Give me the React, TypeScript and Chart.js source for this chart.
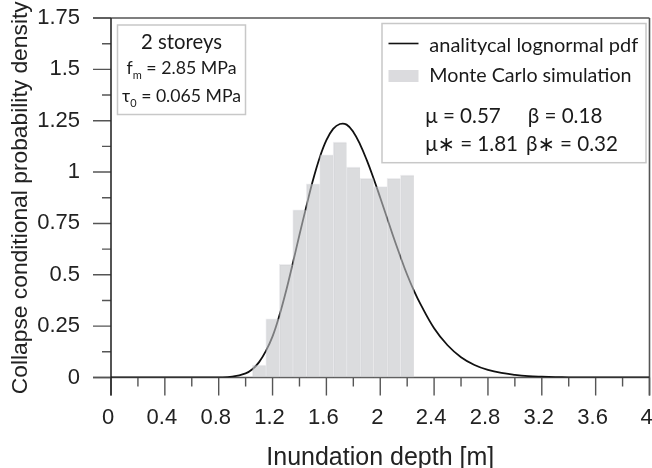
import React, { useEffect, useRef } from "react";
import { Chart, registerables } from "chart.js";

Chart.register(...registerables);

// ---------- data ----------
const binCenters = [1.1, 1.2, 1.3, 1.4, 1.5, 1.6, 1.7, 1.8, 1.9, 2.0, 2.1, 2.2];
const mcDensity = [0.061, 0.286, 0.551, 0.816, 0.943, 1.084, 1.146, 1.024, 0.97, 0.929, 0.97, 0.985];

const pdfX = [0, 0.1, 0.2, 0.3, 0.4, 0.5, 0.6, 0.7, 0.8, 0.9, 1.0, 1.05, 1.1, 1.15, 1.2, 1.25, 1.3, 1.35, 1.4, 1.45, 1.5, 1.55, 1.6, 1.65, 1.7, 1.75, 1.8, 1.85, 1.9, 1.95, 2.0, 2.05, 2.1, 2.15, 2.2, 2.25, 2.3, 2.4, 2.5, 2.6, 2.7, 2.8, 2.9, 3.0, 3.1, 3.2, 3.3, 3.4, 3.5, 3.6, 3.7, 3.8, 3.9, 4.0];
const pdfY = [0, 0, 0, 0, 0, 0, 0, 0, 0.0005, 0.004, 0.02, 0.04, 0.075, 0.128, 0.2, 0.3, 0.42, 0.555, 0.695, 0.83, 0.96, 1.07, 1.155, 1.21, 1.234, 1.231, 1.195, 1.135, 1.058, 0.97, 0.875, 0.778, 0.68, 0.588, 0.5, 0.423, 0.356, 0.24, 0.157, 0.099, 0.061, 0.037, 0.022, 0.013, 0.007, 0.004, 0.002, 0.001, 0, 0, 0, 0, 0, 0];

const xTicks = [0, 0.4, 0.8, 1.2, 1.6, 2.0, 2.4, 2.8, 3.2, 3.6, 4.0];
const xTickLabels = ["0", "0.4", "0.8", "1.2", "1.6", "2", "2.4", "2.8", "3.2", "3.6", "4"];
const xMinorTicks = [0.2, 0.6, 1.0, 1.4, 1.8, 2.2, 2.6, 3.0, 3.4, 3.8];
const yTicks = [0, 0.25, 0.5, 0.75, 1, 1.25, 1.5, 1.75];
const yTickLabels = ["0", "0.25", "0.5", "0.75", "1", "1.25", "1.5", "1.75"];
const yMinorTicks = [0.125, 0.375, 0.625, 0.875, 1.125, 1.375, 1.625];

const seriesLabels = ["analitycal lognormal pdf", "Monte Carlo simulation"];
const paramRow1 = ["\u03bc = 0.57", "\u03b2 = 0.18"];
const paramRow2 = ["\u03bc\u2217 = 1.81", "\u03b2\u2217 = 0.32"];
const infoTitle = "2 storeys";
const infoFm = ["f", "m", " = 2.85 MPa"];
const infoTau = ["\u03c4", "0", " = 0.065 MPa"];

const xTitle = "Inundation depth [m]";
const yTitle = "Collapse conditional probability density";

// ---------- style ----------
const ARIAL = "'Liberation Sans', Arial, sans-serif";
const CAL = "Lato, 'Noto Sans', 'DejaVu Sans', sans-serif";
const BAR_FILL = "rgba(195,196,200,0.6)";
const BAR_SOLID = "rgb(219,219,222)";

function fitSize(ctx: CanvasRenderingContext2D, text: string, width: number) {
  ctx.font = `100px ${CAL}`;
  return (100 * width) / ctx.measureText(text).width;
}

const axesPlugin = {
  id: "axesPlugin",
  beforeDatasetsDraw(chart: any) {
    const { ctx, chartArea: a, scales } = chart;
    const xs = scales.x;
    const ys = scales.y;
    const y0 = ys.getPixelForValue(0);
    const x0 = xs.getPixelForValue(0);
    const MAJ = 18;
    const MIN = 9;
    ctx.save();
    ctx.lineCap = "butt";
    ctx.strokeStyle = "#555";
    ctx.lineWidth = 1.4;
    ctx.beginPath();
    xTicks.forEach((v) => {
      const px = xs.getPixelForValue(v);
      ctx.moveTo(px, y0);
      ctx.lineTo(px, y0 + MAJ);
    });
    xMinorTicks.forEach((v) => {
      const px = xs.getPixelForValue(v);
      ctx.moveTo(px, y0);
      ctx.lineTo(px, y0 + MIN);
    });
    yTicks.forEach((v) => {
      const py = ys.getPixelForValue(v);
      ctx.moveTo(x0 - MAJ, py);
      ctx.lineTo(x0, py);
    });
    yMinorTicks.forEach((v) => {
      const py = ys.getPixelForValue(v);
      ctx.moveTo(x0 - MIN, py);
      ctx.lineTo(x0, py);
    });
    ctx.stroke();
    ctx.strokeStyle = "#555";
    ctx.lineWidth = 1.6;
    ctx.beginPath();
    ctx.moveTo(x0 - MAJ, a.top);
    ctx.lineTo(a.right, a.top);
    ctx.moveTo(a.right, a.top);
    ctx.lineTo(a.right, y0 + MAJ);
    ctx.moveTo(x0 - MAJ, y0);
    ctx.lineTo(a.right, y0);
    ctx.stroke();
    ctx.strokeStyle = "#2a2a2a";
    ctx.beginPath();
    ctx.moveTo(x0, a.top);
    ctx.lineTo(x0, y0 + MAJ);
    ctx.stroke();
    ctx.restore();
  },
  afterDraw(chart: any) {
    const { ctx } = chart;
    ctx.save();
    // ---- info box ----
    ctx.fillStyle = "#fff";
    ctx.strokeStyle = "#c8c8c8";
    ctx.lineWidth = 1.5;
    ctx.fillRect(117.5, 25, 128, 89.5);
    ctx.strokeRect(117.5, 25, 128, 89.5);

    ctx.fillStyle = "#1a1a1a";
    ctx.textBaseline = "alphabetic";
    const cx = 181.5;
    const infoSize = fitSize(ctx, infoTitle, 81);
    ctx.font = `${infoSize}px ${CAL}`;
    ctx.textAlign = "center";
    ctx.fillText(infoTitle, cx, 49.3);
    const drawSub = (parts: string[], base: number, target: number) => {
      const measure = (s: number) => {
        ctx.font = `${s}px ${CAL}`;
        const w0 = ctx.measureText(parts[0]).width;
        const w2 = ctx.measureText(parts[2]).width;
        ctx.font = `${s * 0.62}px ${CAL}`;
        const w1 = ctx.measureText(parts[1]).width;
        return [w0, w1, w2];
      };
      const m100 = measure(100);
      const s = (100 * target) / (m100[0] + m100[1] + m100[2]);
      const [w0, w1, w2] = measure(s);
      ctx.textAlign = "left";
      let x = cx - (w0 + w1 + w2) / 2;
      ctx.font = `${s}px ${CAL}`;
      ctx.fillText(parts[0], x, base);
      x += w0;
      ctx.font = `${s * 0.62}px ${CAL}`;
      ctx.fillText(parts[1], x, base + 5);
      x += w1;
      ctx.font = `${s}px ${CAL}`;
      ctx.fillText(parts[2], x, base);
    };
    drawSub(infoFm, 74, 110);
    drawSub(infoTau, 101.7, 119);

    // ---- legend box ----
    ctx.fillStyle = "#fff";
    ctx.strokeStyle = "#c8c8c8";
    ctx.lineWidth = 1.5;
    ctx.fillRect(382, 23.5, 264, 139.2);
    ctx.strokeRect(382, 23.5, 264, 139.2);

    const lineDs = chart.data.datasets[0];
    const barDs = chart.data.datasets[1];
    ctx.strokeStyle = lineDs.borderColor;
    ctx.lineWidth = 1.6;
    ctx.beginPath();
    ctx.moveTo(388.5, 43.5);
    ctx.lineTo(418.5, 43.5);
    ctx.stroke();
    ctx.fillStyle = BAR_SOLID;
    ctx.fillRect(388.5, 70, 30, 12);

    ctx.fillStyle = "#1a1a1a";
    ctx.textAlign = "left";
    const s1 = fitSize(ctx, lineDs.label, 209);
    const s2 = fitSize(ctx, barDs.label, 199);
    ctx.font = `${s1}px ${CAL}`;
    ctx.fillText(lineDs.label, 429.3, 52.3);
    ctx.font = `${(s1 + s2) / 2}px ${CAL}`;
    ctx.fillText(barDs.label, 429.3, 81.7);
    ctx.font = `${s1 * 1.03}px ${CAL}`;
    ctx.fillText(paramRow1[0], 425.3, 123.3);
    ctx.fillText(paramRow1[1], 527.7, 123.3);
    ctx.fillText(paramRow2[0], 425.3, 151);
    ctx.fillText(paramRow2[1], 526, 151);
    ctx.restore();
  },
};

export default function App() {
  const ref = useRef<HTMLCanvasElement | null>(null);
  useEffect(() => {
    if (!ref.current) return;
    const chart = new Chart(ref.current, {
      type: "bar",
      data: {
        datasets: [
          {
            type: "line",
            label: seriesLabels[0],
            data: pdfX.map((x, i) => ({ x, y: pdfY[i] })),
            borderColor: "#111",
            borderWidth: 1.8,
            pointRadius: 0,
            fill: false,
            tension: 0.4,
            order: 2,
          } as any,
          {
            type: "bar",
            label: seriesLabels[1],
            data: binCenters.map((x, i) => ({ x, y: mcDensity[i] })),
            backgroundColor: BAR_FILL,
            borderColor: "rgba(200,200,204,0.3)",
            borderWidth: { left: 1, top: 1, right: 0, bottom: 0 },
            borderSkipped: false,
            barPercentage: 1,
            categoryPercentage: 1,
            order: 1,
          } as any,
        ],
      },
      options: {
        animation: false,
        responsive: false,
        devicePixelRatio: 1,
        layout: { padding: { top: 18, right: 2.5, left: 0, bottom: 0 } },
        plugins: { legend: { display: false }, tooltip: { enabled: false } },
        scales: {
          x: {
            type: "linear",
            min: 0,
            max: 4,
            offset: false,
            grid: { display: false, drawTicks: false, offset: false },
            border: { display: false },
            afterBuildTicks: (s: any) => {
              s.ticks = xTicks.map((v) => ({ value: v }));
            },
            afterFit: (s: any) => {
              s.height = 90.5;
              s.paddingLeft = 0;
              s.paddingRight = 0;
            },
            ticks: {
              autoSkip: false,
              maxRotation: 0,
              padding: 27,
              labelOffset: -3,
              color: "#222",
              font: { family: ARIAL, size: 22 },
              callback: (v: any) => xTickLabels[xTicks.indexOf(Number(v))] ?? "",
            },
            title: {
              display: true,
              text: xTitle,
              color: "#222",
              font: { family: ARIAL, size: 25, lineHeight: 1.2 },
              padding: { top: 0, bottom: -5 },
            },
          },
          y: {
            type: "linear",
            min: 0,
            max: 1.75,
            grid: { display: false, drawTicks: false },
            border: { display: false },
            afterBuildTicks: (s: any) => {
              s.ticks = yTicks.map((v) => ({ value: v }));
            },
            afterFit: (s: any) => {
              s.width = 111;
              s.paddingTop = 0;
              s.paddingBottom = 0;
            },
            ticks: {
              autoSkip: false,
              padding: 31,
              color: "#222",
              font: { family: ARIAL, size: 22 },
              callback: (v: any) => yTickLabels[yTicks.indexOf(Number(v))] ?? "",
            },
            title: {
              display: true,
              text: yTitle,
              color: "#222",
              font: { family: ARIAL, size: 22.8, lineHeight: 1.2 },
              padding: { top: 7, bottom: 0 },
            },
          },
        },
      },
      plugins: [axesPlugin],
    } as any);
    return () => chart.destroy();
  }, []);
  return (
    <div style={{ position: "absolute", left: 0, top: 0, width: 652, height: 468 }}>
      <canvas ref={ref} width={652} height={468} style={{ width: 652, height: 468, display: "block" }} />
    </div>
  );
}
